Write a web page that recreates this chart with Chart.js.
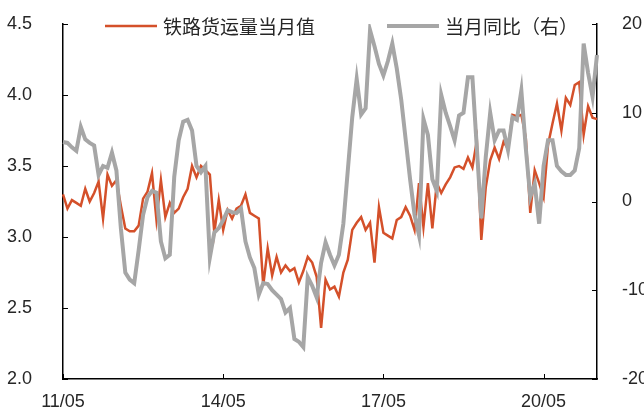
<!DOCTYPE html>
<html lang="zh">
<head>
<meta charset="UTF-8">
<title>铁路货运量</title>
<script src="https://cdn.jsdelivr.net/npm/chart.js"></script>
<style>
  html, body { margin: 0; padding: 0; background: #fff; }
  canvas { display: block; }
</style>
</head>
<body>
<canvas id="freightChart" width="644" height="410"></canvas>
<script>
// 铁路货运量当月值（左轴）
const volume = [
  3.30, 3.20, 3.26, 3.24, 3.22, 3.34, 3.25, 3.31, 3.39, 3.13,
  3.44, 3.36, 3.40, 3.22, 3.06, 3.04, 3.04, 3.08, 3.27, 3.32,
  3.45, 3.12, 3.40, 3.14, 3.24, 3.17, 3.20, 3.28, 3.34, 3.50,
  3.42, 3.50, 3.47, 3.44, 3.03, 3.26, 3.05, 3.19, 3.13, 3.20,
  3.22, 3.30, 3.17, 3.15, 3.13, 2.66, 2.92, 2.73, 2.86, 2.75,
  2.80, 2.76, 2.78, 2.68, 2.76, 2.86, 2.82, 2.72, 2.36, 2.70,
  2.63, 2.65, 2.58, 2.75, 2.84, 3.05, 3.10, 3.14, 3.05, 3.10,
  2.82, 3.21, 3.03, 3.01, 2.99, 3.12, 3.14, 3.21, 3.15, 3.05,
  3.38, 3.07, 3.38, 3.06, 3.38, 3.31, 3.37, 3.42, 3.49, 3.50,
  3.48, 3.56, 3.49, 3.68, 2.98, 3.35, 3.54, 3.63, 3.55, 3.67,
  3.62, 3.86, 3.85, 3.86, 3.70, 3.17, 3.47, 3.38, 3.28, 3.65,
  3.80, 3.94, 3.75, 3.98, 3.93, 4.07, 4.09, 3.72, 3.92, 3.84, 3.83
];
// 当月同比（右轴，%）
const yoy = [
  6.7, 6.6, 6.1, 5.7, 8.4, 7.0, 6.6, 6.3, 3.0, 4.0,
  3.8, 5.5, 3.5, -3.0, -8.0, -8.8, -9.2, -5.5, -1.5, 0.5,
  1.2, 1.0, -4.5, -6.4, -6.0, 2.8, 6.9, 9.0, 9.2, 8.0,
  4.0, 3.3, 4.0, -6.3, -3.5, -3.0, -2.1, -1.0, -1.2, -1.3,
  -0.8, -4.5, -6.3, -7.5, -10.5, -9.2, -9.3, -10.0, -10.5, -11.0,
  -12.5, -12.0, -15.5, -15.8, -16.4, -8.5, -9.5, -10.8, -6.9, -4.6,
  -6.0, -7.2, -6.0, -2.5, 3.5, 9.5, 13.8, 9.8, 10.5, 19.3,
  17.5, 15.5, 14.2, 15.8, 17.8, 15.0, 11.5, 7.0, 2.5, -1.5,
  -3.8, 9.3, 7.5, 2.5, 1.2, 12.0, 10.0, 8.5, 6.9, 9.7,
  10.0, 14.0, 14.0, 6.0, -1.9, 5.0, 10.0, 6.9, 8.0, 8.0,
  5.8, 9.5, 9.2, 12.5, 6.0, 0.5, 2.0, -2.5, 4.0, 6.9,
  6.9, 4.0, 3.4, 3.0, 3.0, 3.5, 6.0, 17.8, 14.5, 11.8, 16.5
];
const xTickLabels = ['11/05', '14/05', '17/05', '20/05'];
const seriesNames = ['铁路货运量当月值', '当月同比（右）'];
const seriesColors = ['#D4502A', '#A6A6A6'];

// 月份标签 11/05 ... 21/05
const months = [];
for (let y = 2011, m = 5; months.length < volume.length; m++) {
  if (m > 12) { m = 1; y++; }
  months.push(String(y).slice(2) + '/' + String(m).padStart(2, '0'));
}

const fontFamily = '"Liberation Sans", Arial, "Noto Sans CJK SC", sans-serif';
const tickFont = { family: fontFamily, size: 18 };
const textColor = '#262626';

// 固定绘图区：去掉刻度标签带来的额外边距
function fixWidth(w) {
  return (s) => { s.width = w; s.paddingTop = 0; s.paddingBottom = 0; };
}

// 刻度线朝内
const inwardTicks = {
  id: 'inwardTicks',
  afterDraw(chart) {
    const { ctx, chartArea: a, scales } = chart;
    const len = 5;
    ctx.save();
    ctx.strokeStyle = '#000';
    ctx.lineWidth = 1;
    ctx.beginPath();
    scales.y.ticks.forEach((t, i) => {
      const p = Math.round(scales.y.getPixelForTick(i)) + 0.5;
      ctx.moveTo(a.left, p); ctx.lineTo(a.left + len, p);
    });
    scales.y1.ticks.forEach((t, i) => {
      const p = Math.round(scales.y1.getPixelForTick(i)) + 0.5;
      ctx.moveTo(a.right, p); ctx.lineTo(a.right - len, p);
    });
    scales.x.ticks.forEach((t, i) => {
      if (!xTickLabels.includes(months[t.value])) return;
      const p = Math.round(scales.x.getPixelForTick(i)) + 0.5;
      ctx.moveTo(p, a.bottom); ctx.lineTo(p, a.bottom - len);
    });
    ctx.stroke();
    ctx.restore();
  }
};

// 图例画在绘图区顶部
const lineLegend = {
  id: 'lineLegend',
  afterDraw(chart) {
    const { ctx, chartArea: a } = chart;
    const y = a.top + 2;
    let x = a.left + 42;
    ctx.save();
    ctx.font = '19px "Noto Sans CJK SC", ' + fontFamily;
    ctx.textBaseline = 'middle';
    ctx.fillStyle = textColor;
    chart.data.datasets.forEach((ds) => {
      ctx.strokeStyle = ds.borderColor;
      ctx.lineWidth = ds.borderWidth;
      ctx.beginPath();
      ctx.moveTo(x, y); ctx.lineTo(x + 52, y);
      ctx.stroke();
      x += 58;
      ctx.fillText(ds.label, x, y + 1);
      x += ctx.measureText(ds.label).width + 72;
    });
    ctx.restore();
  }
};

new Chart(document.getElementById('freightChart'), {
  type: 'line',
  data: {
    labels: months,
    datasets: [
      {
        label: seriesNames[0], data: volume, yAxisID: 'y',
        borderColor: seriesColors[0], borderWidth: 2.5,
        pointRadius: 0, tension: 0, order: 1
      },
      {
        label: seriesNames[1], data: yoy, yAxisID: 'y1',
        borderColor: seriesColors[1], borderWidth: 4,
        pointRadius: 0, tension: 0, order: 0
      }
    ]
  },
  options: {
    responsive: false,
    animation: false,
    layout: { padding: { top: 24, left: 0, right: 0, bottom: 0 } },
    plugins: {
      legend: { display: false },
      tooltip: { enabled: false }
    },
    scales: {
      x: {
        grid: { display: false },
        border: { display: true, color: '#000', width: 1.5 },
        ticks: {
          autoSkip: false, maxRotation: 0, padding: 4,
          font: tickFont, color: textColor,
          callback(v, i) {
            const l = months[i];
            return xTickLabels.includes(l) ? l : null;
          }
        },
        afterFit(s) { s.height = 31; s.paddingLeft = 0; s.paddingRight = 0; }
      },
      y: {
        position: 'left', min: 2, max: 4.5,
        grid: { display: false },
        border: { display: true, color: '#000', width: 1.5 },
        ticks: {
          stepSize: 0.5, padding: 23, font: tickFont, color: textColor,
          callback: v => v.toFixed(1)
        },
        afterFit: fixWidth(63)
      },
      y1: {
        position: 'right', min: -20, max: 20,
        grid: { display: false },
        border: { display: true, color: '#000', width: 1.5 },
        ticks: { stepSize: 10, padding: 17, font: tickFont, color: textColor },
        afterFit: fixWidth(47)
      }
    }
  },
  plugins: [inwardTicks, lineLegend]
});
</script>
</body>
</html>
